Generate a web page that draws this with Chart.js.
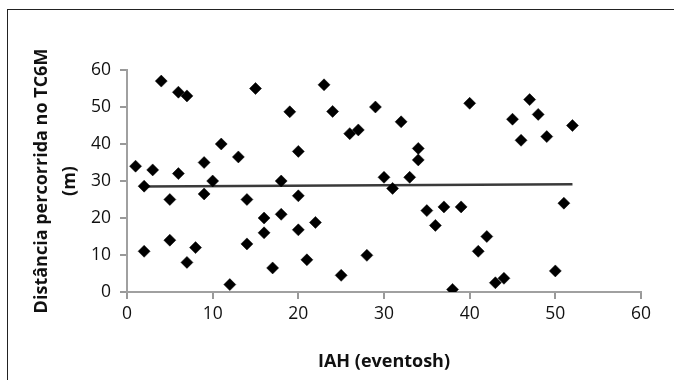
<!DOCTYPE html>
<html>
<head>
<meta charset="utf-8">
<script src="https://cdn.jsdelivr.net/npm/chart.js@4/dist/chart.umd.min.js"></script>
<style>
  body { margin: 0; background: #fff; overflow: hidden; }
  #wrap { position: relative; width: 674px; height: 380px; }
  #frame { position: absolute; left: 7px; top: 9px; width: 700px; height: 400px; border: 1px solid #222; }
  #grafico { position: absolute; left: 0; top: 0; }
</style>
</head>
<body>
<div id="wrap">
  <div id="frame"></div>
  <canvas id="grafico" width="674" height="380"></canvas>
</div>
<script>
// IAH (eventos/h) de cada paciente
const iah = [1, 2, 3, 4, 2, 5, 5, 6, 7, 6, 7, 8, 9, 9, 10, 11, 12, 13, 14, 14, 15, 16, 16, 17, 18, 18,
  19, 20, 20, 20, 22, 21, 23, 24, 25, 26, 27, 28, 29, 30, 31, 32, 33, 34, 34, 35, 36, 37, 38, 39,
  40, 41, 42, 43, 44, 45, 46, 47, 48, 49, 50, 51, 52];

// Distância percorrida no TC6M (m)
const distancia = [34, 28.6, 33, 57, 11, 25, 14, 54, 53, 32, 8, 12, 35, 26.5, 30, 40, 2, 36.5, 25, 13, 55, 20, 16, 6.5, 30, 21,
  48.7, 38, 26, 16.8, 18.8, 8.7, 56, 48.8, 4.5, 42.8, 43.8, 9.9, 50, 31, 28, 46, 31, 38.8, 35.7, 22, 18, 23, 0.7, 23,
  51, 11, 15, 2.5, 3.7, 46.7, 41, 52, 48, 42, 5.7, 24, 45];

// linha de tendência
const tendenciaX = [2, 52];
const tendenciaY = [28.5, 29.1];

const ticksEixo = [0, 10, 20, 30, 40, 50, 60];

const fonte = "'Open Sans', 'Noto Sans', sans-serif";

const pontos = iah.map((x, i) => ({ x: x, y: distancia[i] }));
const linha = tendenciaX.map((x, i) => ({ x: x, y: tendenciaY[i] }));

new Chart(document.getElementById('grafico'), {
  type: 'scatter',
  data: {
    datasets: [
      {
        label: 'Distância',
        data: pontos,
        pointStyle: 'rectRot',
        pointRadius: 6,
        pointHoverRadius: 6,
        backgroundColor: '#000',
        borderColor: '#000',
        borderWidth: 0.5
      },
      {
        label: 'Tendência',
        type: 'line',
        data: linha,
        borderColor: '#3a3a3a',
        borderWidth: 2.5,
        pointRadius: 0,
        fill: false
      }
    ]
  },
  options: {
    responsive: false,
    animation: false,
    layout: { padding: { left: 0, top: 70, right: 33, bottom: 0 } },
    plugins: { legend: { display: false }, tooltip: { enabled: false } },
    scales: {
      x: {
        type: 'linear',
        min: 0,
        max: 60,
        afterBuildTicks: s => { s.ticks = ticksEixo.map(v => ({ value: v })); },
        afterFit: s => { s.height = 88; },
        grid: { display: true, drawOnChartArea: false, tickLength: 7, color: '#999', lineWidth: 2 },
        border: { color: '#a0a0a0', width: 2 },
        ticks: { color: '#111', font: { family: fonte, size: 17.5 }, padding: 5, maxRotation: 0 },
        title: {
          display: true,
          text: 'IAH (eventosh)',
          color: '#111',
          font: { family: fonte, size: 18, weight: 'bold', lineHeight: 1.2 },
          padding: { top: 0, bottom: 7 }
        }
      },
      y: {
        type: 'linear',
        min: 0,
        max: 60,
        afterBuildTicks: s => { s.ticks = ticksEixo.map(v => ({ value: v })); },
        afterFit: s => { s.width = 127; },
        grid: { display: true, drawOnChartArea: false, tickLength: 7, color: '#999', lineWidth: 2 },
        border: { color: '#a0a0a0', width: 2 },
        ticks: { color: '#111', font: { family: fonte, size: 17.5 }, padding: 9 },
        title: {
          display: true,
          text: ['Distância percorrida no TC6M', '(m)'],
          color: '#111',
          font: { family: fonte, size: 18, weight: 'bold', lineHeight: 1.56 },
          padding: { top: 28, bottom: 0 }
        }
      }
    }
  }
});
</script>
</body>
</html>
